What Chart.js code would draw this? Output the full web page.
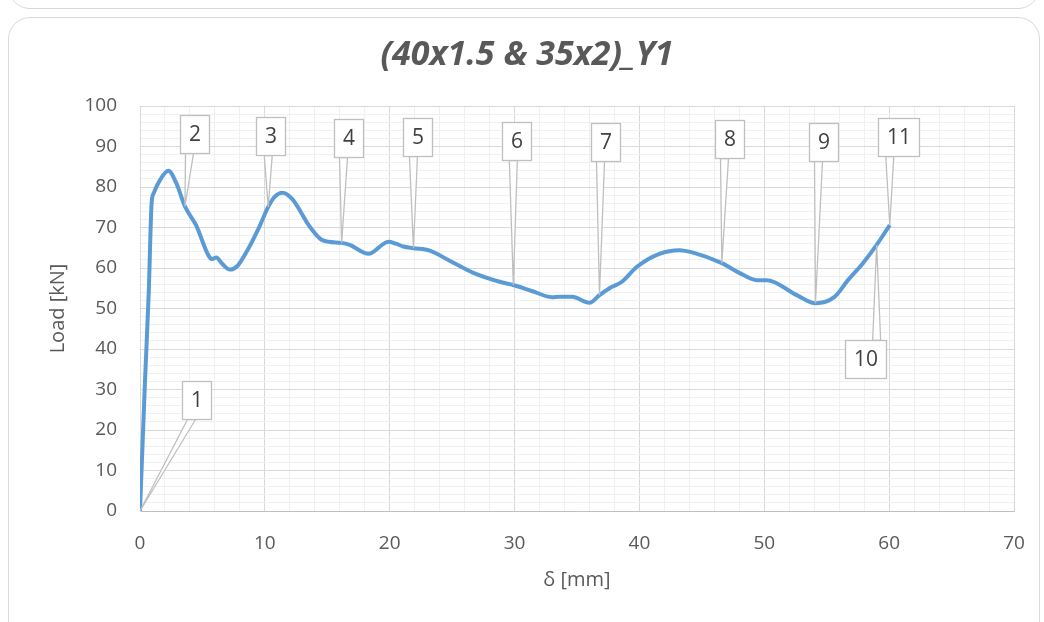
<!DOCTYPE html>
<html>
<head>
<meta charset="utf-8">
<script src="https://cdn.jsdelivr.net/npm/chart.js@4.4.1/dist/chart.umd.min.js"></script>
<style>
    html, body { margin: 0; padding: 0; background: #fff; overflow: hidden; }
    #wrap { position: relative; width: 1044px; height: 622px; }
    .frame { position: absolute; border: 1px solid #d9d9d9; border-radius: 22px; }
    canvas { position: absolute; left: 0; top: 0; }
</style>
</head>
<body>
<div id="wrap">
    <div class="frame" style="left:8px;top:-300px;width:1030px;height:307px"></div>
    <div class="frame" style="left:8px;top:17px;width:1030px;height:660px"></div>
    <canvas id="loadChart" width="1044" height="622"></canvas>
</div>
<script>
// Load - displacement curve
var deltaMm = [0, 0.4, 0.7, 0.93, 1.1, 1.6, 2.27, 2.9, 3.6, 4.5, 5.5, 5.8, 6.1, 6.6, 7.2, 7.8,
    8.5, 9.5, 10.27, 10.8, 11.4, 12.2, 13.6, 14.6, 16.15, 16.8, 18.3, 19.9, 20.5, 21.1, 21.9,
    23.2, 24.8, 26.7, 28.8, 29.9, 31.5, 33.0, 33.6, 34.6, 36.0, 36.8, 37.6, 38.6, 39.8, 41.6,
    43.2, 44.3, 46.6, 48.0, 49.4, 50.2, 52.6, 54.1, 55.6, 56.7, 57.9, 59.0, 60.05];
var loadKn = [0, 32, 54, 76, 78.5, 81.7, 84, 81, 75.2, 70.5, 63.0, 62.2, 62.6, 61.0, 59.6, 60.5,
    63.8, 69.8, 75.1, 77.6, 78.6, 77.0, 70.2, 66.9, 66.2, 65.7, 63.5, 66.5, 66.0, 65.3, 64.9,
    64.3, 61.8, 58.8, 56.6, 55.8, 54.2, 52.8, 52.9, 52.9, 51.4, 53.3, 55.0, 56.6, 60.3, 63.5,
    64.4, 63.8, 61.2, 58.8, 57.0, 57.0, 53.3, 51.3, 52.8, 57.0, 61.2, 65.7, 70.6];

// numbered callouts and the delta they point at
var calloutLabels = ['1', '2', '3', '4', '5', '6', '7', '8', '9', '10', '11'];
var calloutDelta = [0, 3.6, 10.27, 16.15, 21.9, 29.9, 36.8, 46.6, 54.1, 59.0, 60.05];

var chartTitle = '(40x1.5 & 35x2)_Y1';
var xTitle = 'δ [mm]';
var yTitle = 'Load [kN]';

var textColor = '#595959';
Chart.defaults.font.family = '"Open Sans"';

function gridColor(c) {
    return (c.tick && Math.round(c.tick.value) % 10 === 0) ? '#d9d9d9' : '#f0f0f0';
}

// draws the boxed numbers with their wedge pointers
var calloutPlugin = {
    id: 'callouts',
    // box centres, in axis units
    boxAt: [[4.56, 27.4], [4.38, 93.0], [10.45, 92.7], [16.7, 92.0], [22.26, 92.3], [30.18, 91.4],
        [37.3, 91.2], [47.24, 91.9], [54.76, 91.2], [58.13, 37.5], [60.74, 92.3]],
    afterDatasetsDraw: function (chart) {
        var ctx = chart.ctx;
        var xs = chart.scales.x, ys = chart.scales.y;
        var boxAt = this.boxAt;
        ctx.save();
        ctx.font = '21px "Open Sans"';
        calloutLabels.forEach(function (txt, i) {
            var idx = deltaMm.indexOf(calloutDelta[i]);
            var tx = xs.getPixelForValue(deltaMm[idx]);
            var ty = ys.getPixelForValue(loadKn[idx]);
            var cx = xs.getPixelForValue(boxAt[i][0]);
            var cy = ys.getPixelForValue(boxAt[i][1]);
            var w = Math.round(ctx.measureText(txt).width + 17), h = 38;
            var left = Math.round(cx - w / 2) + 0.5, top = Math.round(cy - h / 2) + 0.5;
            var edgeY = cy > ty ? top : top + h;
            var bx = Math.min(Math.max(tx, left + 9), left + w - 9);

            ctx.lineWidth = 1.3;
            ctx.strokeStyle = '#bfbfbf';
            ctx.fillStyle = '#fff';
            ctx.beginPath();
            ctx.moveTo(bx - 4, edgeY);
            ctx.lineTo(tx, ty);
            ctx.lineTo(bx + 4, edgeY);
            ctx.closePath();
            ctx.fill();
            ctx.stroke();

            ctx.fillRect(left, top, w, h);
            ctx.strokeRect(left, top, w, h);
            ctx.fillStyle = '#404040';
            ctx.textAlign = 'center';
            ctx.textBaseline = 'middle';
            ctx.fillText(txt, left + w / 2, top + h / 2 + 1);
        });
        ctx.restore();
    }
};

var points = deltaMm.map(function (d, i) { return { x: d, y: loadKn[i] }; });

var ctxLoad = document.getElementById('loadChart').getContext('2d');
var loadChart = new Chart(ctxLoad, {
    type: 'line',
    data: {
        datasets: [{
            label: chartTitle,
            data: points,
            borderColor: '#5b9bd5',
            borderWidth: 4,
            pointRadius: 0,
            fill: false,
            cubicInterpolationMode: 'monotone'
        }]
    },
    options: {
        responsive: false,
        animation: false,
        layout: { padding: { left: 40, right: 30, top: 0, bottom: 0 } },
        plugins: {
            legend: { display: false },
            tooltip: { enabled: false },
            title: {
                display: true,
                text: chartTitle,
                color: textColor,
                font: { size: 34, style: 'italic', weight: 'bold' },
                padding: { top: 35, bottom: 30.2 }
            }
        },
        scales: {
            x: {
                type: 'linear',
                min: 0,
                max: 70,
                // fixed band under the plot, no extra room for the "70" label
                afterFit: function (s) { s.height = 111; s.paddingRight = 0; s.paddingLeft = 0; },
                ticks: {
                    stepSize: 2,
                    autoSkip: false,
                    maxRotation: 0,
                    padding: 21,
                    color: textColor,
                    font: { size: 19 },
                    callback: function (v) { return v % 10 === 0 ? v : ''; }
                },
                grid: { drawTicks: false, color: gridColor },
                border: { color: '#bfbfbf' },
                title: {
                    display: true,
                    text: xTitle,
                    color: textColor,
                    font: { size: 20 },
                    padding: { top: 0, bottom: 30 }
                }
            },
            y: {
                min: 0,
                max: 100,
                afterFit: function (s) { s.width = 100; },
                ticks: {
                    stepSize: 2,
                    autoSkip: false,
                    padding: 23,
                    color: textColor,
                    font: { size: 19 },
                    callback: function (v) { return v % 10 === 0 ? v : ''; }
                },
                grid: { drawTicks: false, color: gridColor },
                border: { color: '#d9d9d9' },
                title: {
                    display: true,
                    text: yTitle,
                    color: textColor,
                    font: { size: 20 },
                    padding: { top: 6, bottom: 0 }
                }
            }
        }
    },
    plugins: [calloutPlugin]
});
</script>
</body>
</html>
